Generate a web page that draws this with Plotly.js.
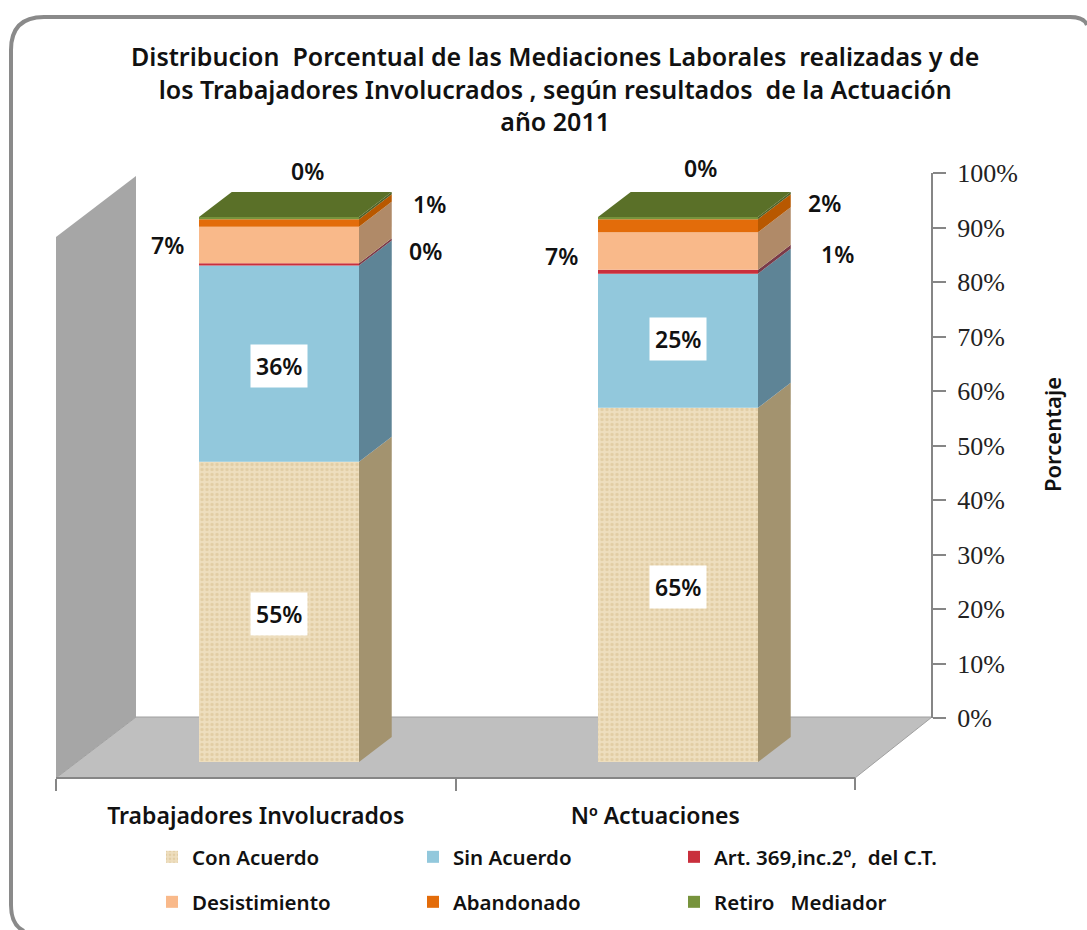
<!DOCTYPE html>
<html>
<head>
<meta charset="utf-8">
<script src="https://cdn.plot.ly/plotly-3.0.1.min.js"></script>
<style>html,body{margin:0;padding:0;background:#fff}#chart{width:1087px;height:930px}</style>
</head>
<body>
<div id="chart"></div>
<script>
// ---- data ----
var categories = ['Trabajadores Involucrados', 'Nº Actuaciones'];
var seriesNames = ['Con Acuerdo', 'Sin Acuerdo', 'Art. 369,inc.2º,  del C.T.', 'Desistimiento', 'Abandonado', 'Retiro   Mediador'];
var conAcuerdo = [55.1, 65.0];
var sinAcuerdo = [36.0, 24.6];
var art369 = [0.4, 0.7];
var desistimiento = [6.7, 6.9];
var abandonado = [1.4, 2.4];
var retiroMediador = [0.4, 0.4];
var yTickValues = [0, 10, 20, 30, 40, 50, 60, 70, 80, 90, 100];
var titleLines = ['Distribucion&nbsp; Porcentual de las Mediaciones Laborales&nbsp; realizadas y de', 'los Trabajadores Involucrados , según resultados&nbsp; de la Actuación', 'año 2011'];

// ---- styles ----
var frontColors = ['#EBD9B4', '#92C8DC', '#C92F3C', '#F9B98A', '#E36C0A', '#77933C'];
var sideColors = ['#A3936F', '#5E8496', '#7A3A48', '#B08A68', '#B85800', '#4F6228'];
var topColor = '#5A7028';
var W = 1087, H = 930;
var SANS = '"Noto Sans", sans-serif', INK = '#111111', GREY = '#868686';
function fx(p) { return p / W; }
function fy(p) { return 1 - p / H; }
function poly(points) {
  return points.map(function (q, i) { return (i ? 'L' : 'M') + fx(q[0]) + ',' + fy(q[1]); }).join(' ') + ' Z';
}

// pixel geometry of the 3D box
var pxPerPct = 5.45;
var barWidth = 0.401, depthX = 0.082, depthY = 25 / pxPerPct;

var series = [conAcuerdo, sinAcuerdo, art369, desistimiento, abandonado, retiroMediador];
var traces = [];

// invisible trace that gives the visible axes their categories
traces.push({ type: 'scatter', mode: 'none', x: categories, y: [0, 0], xaxis: 'x', yaxis: 'y', showlegend: false, hoverinfo: 'skip' });

var base = [0, 0];
series.forEach(function (vals, s) {
  var bar = {
    type: 'bar', name: seriesNames[s], x: [0, 1], y: vals, base: base.slice(), width: barWidth,
    xaxis: 'x2', yaxis: 'y2', hoverinfo: 'name+y',
    legend: s < 3 ? 'legend' : 'legend2',
    marker: { color: frontColors[s], line: { width: 0 } }
  };
  if (s === 0) bar.marker.pattern = { shape: '.', fgcolor: '#E2CDA4', bgcolor: '#EEDEBE', size: 5, solidity: 0.35 };
  traces.push(bar);
  // side face of this segment
  vals.forEach(function (v, i) {
    var xr = i + barWidth / 2, b = base[i], t = base[i] + v;
    traces.push({
      type: 'scatter', mode: 'lines', xaxis: 'x2', yaxis: 'y2', showlegend: false, hoverinfo: 'skip',
      x: [xr, xr + depthX, xr + depthX, xr, xr], y: [b, b + depthY, t + depthY, t, b],
      fill: 'toself', fillcolor: sideColors[s], line: { width: 0, color: sideColors[s] }
    });
  });
  base = base.map(function (b, i) { return b + vals[i]; });
});
// top face
base.forEach(function (t, i) {
  var xl = i - barWidth / 2, xr = i + barWidth / 2;
  traces.push({
    type: 'scatter', mode: 'lines', xaxis: 'x2', yaxis: 'y2', showlegend: false, hoverinfo: 'skip',
    x: [xl, xr, xr + depthX, xl + depthX, xl], y: [t, t, t + depthY, t + depthY, t],
    fill: 'toself', fillcolor: topColor, line: { width: 0, color: topColor }
  });
});

// data labels: big segments in white boxes, small ones outside the bar
var annotations = [];
function pct(v) { return Math.round(v) + '%'; }
var cum = [0, 0];
var labelFont = { family: SANS, size: 23, color: INK, weight: 600 };
var outside = [
  [[0, -2], [0, -2]],
  [[0, -2], [0, 2]],
  [[146, 13], [159, 18]],   // Art. 369
  [[-112, 0], [-117, -5]],  // Desistimiento
  [[150, 19], [146, 23]],   // Abandonado
  [[28, 47], [22, 50]]      // Retiro
];
series.forEach(function (vals, s) {
  vals.forEach(function (v, i) {
    var mid = cum[i] + v / 2;
    var a = { xref: 'x2', yref: 'y2', x: i, y: mid, text: pct(v), showarrow: false, font: labelFont,
              xshift: outside[s][i][0], yshift: outside[s][i][1] };
    if (s < 2) { a.bgcolor = '#FFFFFF'; a.borderpad = 5; }
    annotations.push(a);
  });
  cum = cum.map(function (c, i) { return c + vals[i]; });
});
// title
annotations.push({
  xref: 'paper', yref: 'paper', x: fx(555), y: fy(37), yanchor: 'top', xanchor: 'center', showarrow: false,
  align: 'center', text: titleLines.join('<br>'),
  font: { family: SANS, size: 25, color: INK, weight: 600 }
});
// value-axis title
annotations.push({
  xref: 'paper', yref: 'paper', x: fx(1052), y: fy(435), xanchor: 'center', yanchor: 'middle', showarrow: false,
  textangle: -90, text: 'Porcentaje', font: { family: SANS, size: 22, color: INK, weight: 600 }
});

var shapes = [
  // open rounded frame: top and left edges only, as in the source image
  { type: 'path', xref: 'paper', yref: 'paper', layer: 'below', line: { color: '#8A8A8A', width: 4 }, fillcolor: 'rgba(0,0,0,0)',
    path: 'M' + fx(24) + ',' + fy(931) + ' Q' + fx(11) + ',' + fy(925) + ' ' + fx(11) + ',' + fy(905) + ' L' + fx(11) + ',' + fy(50) + ' Q' + fx(11) + ',' + fy(17) + ' ' + fx(44) + ',' + fy(17) + ' L' + fx(1070) + ',' + fy(17) + ' Q' + fx(1084) + ',' + fy(17) + ' ' + fx(1087) + ',' + fy(25) },
  // back-left wall
  { type: 'path', xref: 'paper', yref: 'paper', layer: 'below', line: { width: 0 }, fillcolor: '#A6A6A6',
    path: poly([[56, 237], [136, 176], [136, 717], [56, 778]]) },
  // floor
  { type: 'path', xref: 'paper', yref: 'paper', layer: 'below', line: { color: '#A0A0A0', width: 1 }, fillcolor: '#BFBFBF',
    path: poly([[56, 778], [136, 717], [932, 717], [855, 778]]) },
  // closing tick of the category axis
  { type: 'line', xref: 'paper', yref: 'paper', x0: fx(855), x1: fx(855), y0: fy(778), y1: fy(790), line: { color: GREY, width: 2 } }
];

var tickFont = { family: '"Liberation Serif", serif', size: 26, color: '#222222' };
var legendFont = { family: SANS, size: 20.5, color: INK, weight: 600 };

var layout = {
  width: W, height: H, autosize: false, showlegend: true,
  margin: { l: 0, r: 0, t: 0, b: 0 },
  paper_bgcolor: '#FFFFFF', plot_bgcolor: 'rgba(0,0,0,0)',
  barmode: 'overlay',
  xaxis: {
    type: 'category', categoryorder: 'array', categoryarray: categories, range: [-0.5, 1.5],
    domain: [fx(56), fx(855)], anchor: 'free', position: fy(778),
    tickson: 'boundaries', ticks: 'outside', ticklen: 12, tickwidth: 2, tickcolor: GREY,
    showline: true, linecolor: GREY, linewidth: 2, showgrid: false, zeroline: false,
    ticklabelstandoff: 17,
    tickfont: { family: SANS, size: 23, color: INK, weight: 600 }
  },
  yaxis: {
    domain: [fy(718), fy(173)], range: [0, 100], anchor: 'free', position: fx(932), side: 'right',
    tickmode: 'array', tickvals: yTickValues, ticktext: yTickValues.map(function (v) { return v + '%'; }),
    ticks: 'outside', ticklen: 13, tickwidth: 2, tickcolor: GREY,
    showline: true, linecolor: GREY, linewidth: 2, showgrid: false, zeroline: false,
    ticklabelstandoff: 6,
    tickfont: tickFont
  },
  xaxis2: { domain: [fx(79.5), fx(877.5)], range: [-0.5, 1.5], anchor: 'y2', visible: false, fixedrange: true },
  yaxis2: { domain: [fy(762), fy(182)], range: [0, 580 / pxPerPct], anchor: 'x2', visible: false, fixedrange: true },
  legend: { orientation: 'h', x: fx(160), y: fy(857), xanchor: 'left', yanchor: 'middle', entrywidth: 224, entrywidthmode: 'pixels', traceorder: 'normal', font: legendFont, bgcolor: 'rgba(0,0,0,0)', itemclick: false, itemdoubleclick: false, indentation: -8 },
  legend2: { orientation: 'h', x: fx(160), y: fy(902), xanchor: 'left', yanchor: 'middle', entrywidth: 224, entrywidthmode: 'pixels', traceorder: 'normal', font: legendFont, bgcolor: 'rgba(0,0,0,0)', itemclick: false, itemdoubleclick: false, indentation: -8 },
  shapes: shapes,
  annotations: annotations
};

Plotly.newPlot('chart', traces, layout, { displayModeBar: false, responsive: false });
</script>
</body>
</html>
